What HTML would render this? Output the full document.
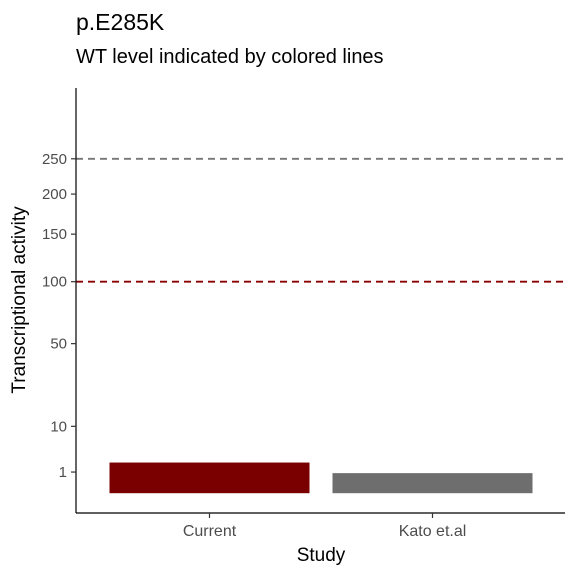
<!DOCTYPE html>
<html><head><meta charset="utf-8"><style>
body{margin:0;background:#fff;font-family:"Liberation Sans",Arial,sans-serif}
</style></head><body>
<svg width="576" height="576" viewBox="0 0 576 576" xmlns="http://www.w3.org/2000/svg" font-family="Liberation Sans, Arial, sans-serif">
<rect width="576" height="576" fill="#fff"/>
<text x="76" y="30" font-size="23" fill="#000">p.E285K</text>
<text x="76" y="63" font-size="20" fill="#000">WT level indicated by colored lines</text>
<g id="plot"></g>
<line x1="76" y1="88" x2="76" y2="513" stroke="#000" stroke-width="1.2"/>
<line x1="76" y1="513" x2="565" y2="513" stroke="#000" stroke-width="1.2"/>
<text x="321" y="561" font-size="19" text-anchor="middle">Study</text>
<text transform="translate(25,300) rotate(-90)" font-size="19" text-anchor="middle">Transcriptional activity</text>
</svg>
<script>
const categories=["Current","Kato et.al"];
const values=[2.1,0.9];
const barColors=["#7a0000","#6e6e6e"];
const yTicks=[1,10,50,100,150,200,250];
const refValues=[250,100];
const refColors=["#777777","#8b0000"];
const NS="http://www.w3.org/2000/svg";
const g=document.getElementById('plot');
const svg=document.querySelector('svg');
const y0=493.2, k=21.15;
function y(v){return y0-Math.sqrt(v)*k;}
const step=223, xStart=98;
function xc(i){return xStart+step*(i+0.5);}
const bw=200;
function mk(t,a){const e=document.createElementNS(NS,t);for(const n in a)e.setAttribute(n,a[n]);return e;}
values.forEach((v,i)=>{
 const r=mk('rect',{x:xc(i)-bw/2,y:y(v),width:bw,height:y0-y(v),fill:barColors[i]});
 
 
 g.appendChild(r);
 const t=mk('line',{x1:xc(i),x2:xc(i),y1:513,y2:518,stroke:'#333','stroke-width':1.2});
 
 
 svg.appendChild(t);
 const l=mk('text',{x:xc(i),y:536,'font-size':16,'text-anchor':'middle',fill:'#4d4d4d'});
 l.textContent=categories[i];
 
 
 svg.appendChild(l);
});
refValues.forEach((v,i)=>{
 const l=mk('line',{x1:76,x2:565,y1:y(v),y2:y(v),stroke:refColors[i],'stroke-width':1.8,'stroke-dasharray':'7,5'});
 
 
 g.appendChild(l);
});
yTicks.forEach(v=>{
 const t=mk('line',{x1:71,x2:76,y1:y(v),y2:y(v),stroke:'#333','stroke-width':1.2});
 
 
 svg.appendChild(t);
 const l=mk('text',{x:67,y:y(v)+5,'font-size':15,'text-anchor':'end',fill:'#4d4d4d'});
 l.textContent=v;
 
 
 svg.appendChild(l);
});
</script>
</body></html>
